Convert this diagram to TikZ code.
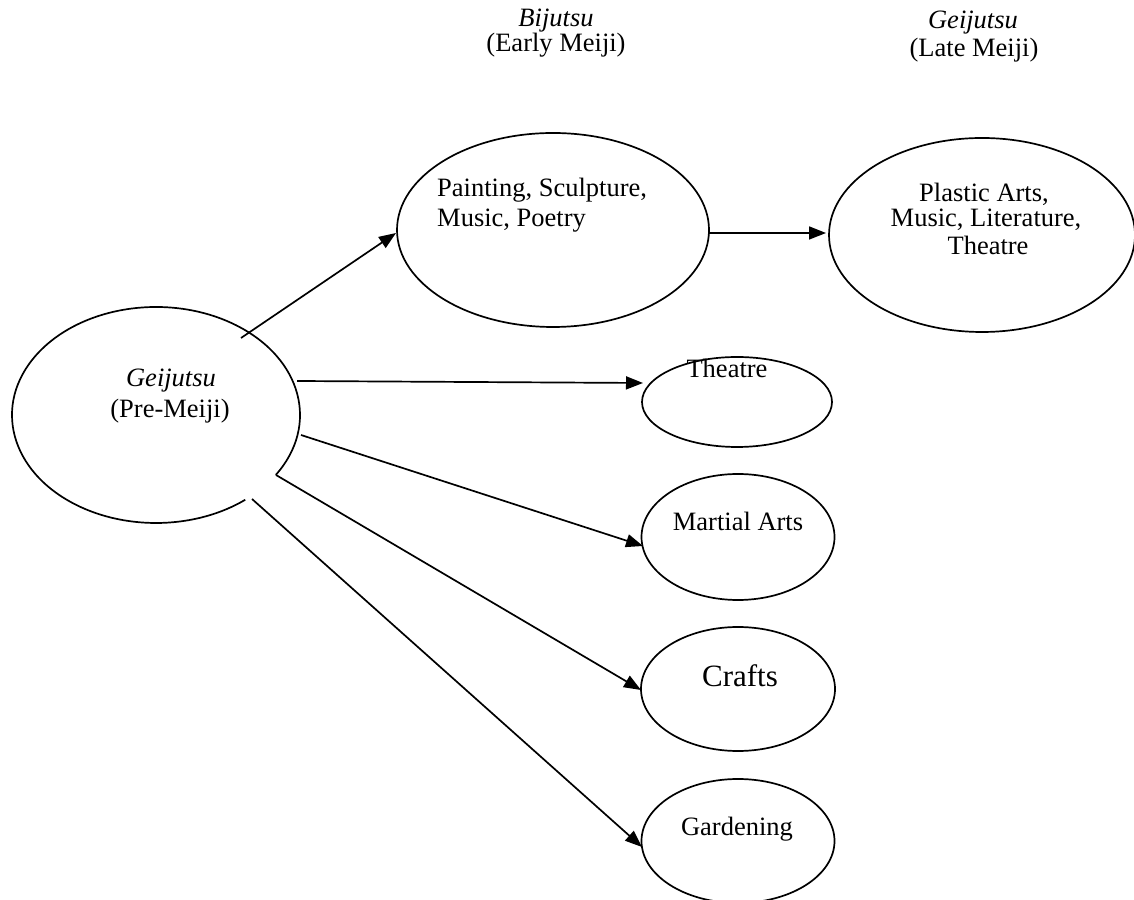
\documentclass[tikz,border=0pt]{standalone}
\usepackage{fontspec}
\setmainfont{Liberation Serif}
\usetikzlibrary{shapes.geometric,arrows.meta,calc}
\tikzset{
  oval/.style={ellipse, draw, line width=1.7pt, inner sep=0pt},
  txt/.style={inner sep=0pt, font=\fontsize{26.5}{30}\selectfont},
  conn/.style={line width=1.7pt, -{Triangle[length=17pt,width=13pt]}},
}
\begin{document}
\begin{tikzpicture}[x=1pt,y=1pt]
\useasboundingbox (0,0) rectangle (1134,899);
% ellipses
\node[ellipse, inner sep=0pt, minimum width=288pt, minimum height=216pt] (ge) at (156,484) {};
\draw[line width=1.7pt] ($(ge.center)+(-33.7:144pt and 108pt)$) arc[start angle=-33.7, end angle=308.3, x radius=144pt, y radius=108pt];
\node[oval, minimum width=312pt, minimum height=194pt] (pe) at (553,669) {};
\node[oval, minimum width=306pt, minimum height=194pt] (le) at (982,664) {};
\node[oval, minimum width=190pt, minimum height=90pt] (te) at (737,497) {};
\node[oval, minimum width=193pt, minimum height=126pt] (me) at (738,362) {};
\node[oval, minimum width=194pt, minimum height=124pt] (ce) at (738,210) {};
\node[oval, minimum width=193pt, minimum height=124pt] (gd) at (738,58) {};
% column labels
\node[txt, anchor=base] (bij) at (556,872) {\itshape Bijutsu};
\node[txt, anchor=base] (bijp) at (556,847) {(Early Meiji)};
\node[txt, anchor=base] (gel) at (973,870) {\itshape Geijutsu};
\node[txt, anchor=base] (gelp) at (974,842) {(Late Meiji)};
% texts inside
\node[txt, anchor=base] (get) at (171,512) {\itshape Geijutsu};
\node[txt, anchor=base] (getp) at (170,481) {(Pre-Meiji)};
\node[txt, anchor=base west] (pe1) at (437,702) {Painting, Sculpture,};
\node[txt, anchor=base west] (pe2) at (437,672) {Music, Poetry};
\node[txt, anchor=base] (le1) at (984,697) {Plastic Arts,};
\node[txt, anchor=base] (le2) at (986,672) {Music, Literature,};
\node[txt, anchor=base] (le3) at (988,644) {Theatre};
\node[txt, anchor=base] (tet) at (727,521) {Theatre};
\node[txt, anchor=base] (met) at (738,368) {Martial Arts};
\node[txt, anchor=base, font=\fontsize{31}{34}\selectfont] (cet) at (740,212) {Crafts};
\node[txt, anchor=base] (gdt) at (737,64) {Gardening};
% connectors
\draw[conn] ($(ge.center)+(85,77)$) -- ($(pe.center)+(-157,-3)$);
\draw[conn] ($(pe.center)+(156,-3)$) -- ($(le.center)+(-156,2)$);
\draw[conn] ($(ge.center)+(141,34)$) -- ($(te.center)+(-94,19)$);
\draw[conn] ($(ge.center)+(145,-20)$) -- ($(me.center)+(-95,-9)$);
\draw[conn] ($(ge.center)+(120,-60)$) -- ($(ce.center)+(-97,-1)$);
\draw[conn] ($(ge.center)+(96,-84)$) -- ($(gd.center)+(-96,-6)$);
\end{tikzpicture}
\end{document}
